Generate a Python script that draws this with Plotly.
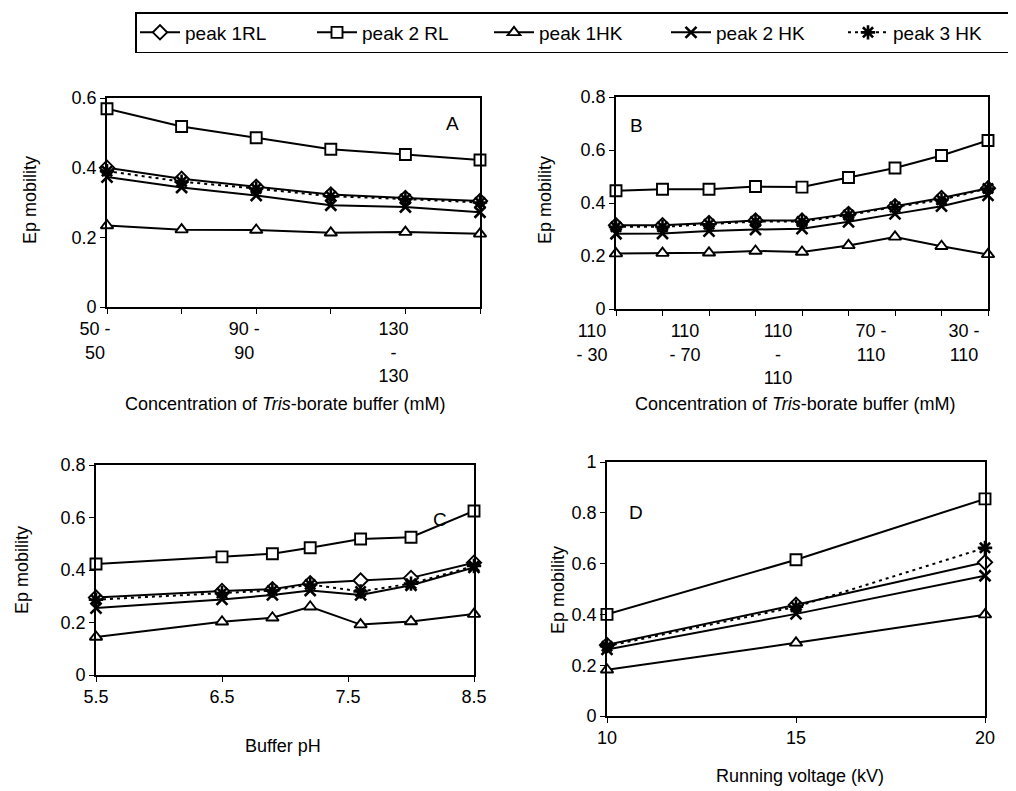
import plotly.graph_objects as go

# ---------------- data ----------------
series_names = ["peak 1RL", "peak 2 RL", "peak 1HK", "peak 2 HK", "peak 3 HK"]

# Panel A: concentration of Tris-borate (mM)
a_cats = ["50 - 50", "70 - 70", "90 - 90", "110 - 110", "130 - 130", "150 - 150"]
a_ticktext = ["50 -<br>50", "", "90 -<br>90", "", "130<br>-<br>130", ""]
a_peak1RL = [0.400, 0.368, 0.345, 0.323, 0.313, 0.304]
a_peak2RL = [0.569, 0.518, 0.486, 0.453, 0.438, 0.422]
a_peak1HK = [0.234, 0.222, 0.221, 0.213, 0.215, 0.210]
a_peak2HK = [0.373, 0.343, 0.320, 0.292, 0.287, 0.272]
a_peak3HK = [0.390, 0.360, 0.340, 0.318, 0.310, 0.300]

# Panel B: concentration of Tris-borate (mM)
b_cats = ["110 - 30", "110 - 50", "110 - 70", "110 - 90", "110 - 110",
          "90 - 110", "70 - 110", "50 - 110", "30 - 110"]
b_ticktext = ["110<br>- 30", "", "110<br>- 70", "", "110<br>-<br>110",
              "", "70 -<br>110", "", "30 -<br>110"]
b_peak1RL = [0.316, 0.316, 0.325, 0.334, 0.334, 0.359, 0.388, 0.419, 0.456]
b_peak2RL = [0.446, 0.452, 0.452, 0.462, 0.460, 0.496, 0.532, 0.579, 0.636]
b_peak1HK = [0.209, 0.211, 0.212, 0.219, 0.215, 0.240, 0.272, 0.237, 0.206]
b_peak2HK = [0.284, 0.285, 0.294, 0.300, 0.303, 0.329, 0.359, 0.388, 0.429]
b_peak3HK = [0.310, 0.310, 0.320, 0.330, 0.330, 0.355, 0.385, 0.412, 0.455]

# Panel C: buffer pH
c_ph = [5.5, 6.5, 6.9, 7.2, 7.6, 8.0, 8.5]
c_peak1RL = [0.295, 0.320, 0.327, 0.350, 0.360, 0.370, 0.428]
c_peak2RL = [0.423, 0.450, 0.462, 0.485, 0.518, 0.525, 0.625]
c_peak1HK = [0.145, 0.203, 0.218, 0.260, 0.192, 0.204, 0.232]
c_peak2HK = [0.255, 0.288, 0.305, 0.322, 0.305, 0.342, 0.410]
c_peak3HK = [0.287, 0.312, 0.322, 0.345, 0.318, 0.348, 0.415]

# Panel D: running voltage (kV)
d_kv = [10, 15, 20]
d_peak1RL = [0.280, 0.438, 0.605]
d_peak2RL = [0.400, 0.615, 0.855]
d_peak1HK = [0.182, 0.288, 0.399]
d_peak2HK = [0.262, 0.402, 0.552]
d_peak3HK = [0.275, 0.430, 0.662]

# ---------------- styling ----------------
FONT = "Liberation Sans Narrow, Liberation Sans, Arial, sans-serif"
OFF = 8                      # page body margin of the browser
W, H = 1016 - OFF, 791 - OFF  # figure size that fits the window

styles = {
    "peak 1RL": dict(symbol="diamond", size=11, fill="white", lw=1.9, dash="solid"),
    "peak 2 RL": dict(symbol="square", size=11, fill="white", lw=1.9, dash="solid"),
    "peak 1HK": dict(symbol="triangle-up", size=11, fill="white", lw=1.9, dash="solid"),
    "peak 2 HK": dict(symbol="x-thin", size=11, fill="black", lw=2.6, dash="solid"),
    "peak 3 HK": dict(symbol="asterisk", size=12, fill="black", lw=2.6, dash="3px,4px"),
}

fig = go.Figure()

panels = [
    ("x", "y", a_cats, [a_peak1RL, a_peak2RL, a_peak1HK, a_peak2HK, a_peak3HK]),
    ("x2", "y2", b_cats, [b_peak1RL, b_peak2RL, b_peak1HK, b_peak2HK, b_peak3HK]),
    ("x3", "y3", c_ph, [c_peak1RL, c_peak2RL, c_peak1HK, c_peak2HK, c_peak3HK]),
    ("x4", "y4", d_kv, [d_peak1RL, d_peak2RL, d_peak1HK, d_peak2HK, d_peak3HK]),
]

for pi, (xa, ya, xs, ys_list) in enumerate(panels):
    for name, ys in zip(series_names, ys_list):
        st = styles[name]
        fig.add_trace(go.Scatter(
            x=xs, y=ys, xaxis=xa, yaxis=ya, name=name,
            mode="lines+markers", showlegend=(pi == 0),
            legendgroup=name, cliponaxis=False,
            line=dict(color="black", width=2, dash=st["dash"]),
            marker=dict(symbol=st["symbol"], size=st["size"], color=st["fill"],
                        line=dict(color="black", width=st["lw"])),
        ))

def px_dom_x(l, r):
    return [(l - OFF) / W, (r - OFF) / W]

def px_dom_y(top, bottom):
    return [1 - (bottom - OFF) / H, 1 - (top - OFF) / H]

axis_common = dict(showline=True, linecolor="black", linewidth=1.7, mirror=True,
                   showgrid=False, zeroline=False, ticks="outside", ticklen=5,
                   tickcolor="black", tickwidth=1, automargin=False,
                   tickfont=dict(family=FONT, size=18, color="black"))

layout = dict(
    width=W, height=H, margin=dict(l=0, r=0, t=0, b=0, autoexpand=False),
    paper_bgcolor="white", plot_bgcolor="white",
    font=dict(family=FONT, size=18, color="black"),
    showlegend=True,
    legend=dict(orientation="h", x=(135 - OFF) / W, y=1 - (12 - OFF) / H,
                xanchor="left", yanchor="top",
                bordercolor="black", borderwidth=1.5, bgcolor="white",
                font=dict(family=FONT, size=19, color="black"),
                entrywidth=122, itemwidth=40, tracegroupgap=0),
    xaxis=dict(domain=px_dom_x(107, 480), anchor="y", type="category",
               categoryorder="array", categoryarray=a_cats,
               range=[0, len(a_cats) - 1], tickvals=a_cats, ticktext=a_ticktext,
               ticklabelshift=-12, **axis_common),
    yaxis=dict(domain=px_dom_y(98, 307), anchor="x", range=[0, 0.6], dtick=0.2,
               **axis_common),
    xaxis2=dict(domain=px_dom_x(616, 988), anchor="y2", type="category",
                categoryorder="array", categoryarray=b_cats,
                range=[0, len(b_cats) - 1], tickvals=b_cats, ticktext=b_ticktext,
                ticklabelshift=-24, **axis_common),
    yaxis2=dict(domain=px_dom_y(97, 309), anchor="x2", range=[0, 0.8], dtick=0.2,
                **axis_common),
    xaxis3=dict(domain=px_dom_x(96, 474), anchor="y3", range=[5.5, 8.5],
                tickvals=[5.5, 6.5, 7.5, 8.5], ticktext=["5.5", "6.5", "7.5", "8.5"],
                **axis_common),
    yaxis3=dict(domain=px_dom_y(465, 675), anchor="x3", range=[0, 0.8], dtick=0.2,
                **axis_common),
    xaxis4=dict(domain=px_dom_x(607, 985), anchor="y4", range=[10, 20], dtick=5,
                **axis_common),
    yaxis4=dict(domain=px_dom_y(462, 716), anchor="x4", range=[0, 1], dtick=0.2,
                **axis_common),
)
fig.update_layout(**layout)

def ptext(text, xpx, ypx, angle=0, size=18):
    return dict(text=text, xref="paper", yref="paper",
                x=(xpx - OFF) / W, y=1 - (ypx - OFF) / H,
                showarrow=False, textangle=angle,
                font=dict(family=FONT, size=size, color="black"),
                xanchor="center", yanchor="middle")

annotations = [
    # panel letters
    ptext("A", 452, 123, size=19),
    ptext("B", 636, 125, size=19),
    ptext("C", 440, 519, size=19),
    ptext("D", 636, 512, size=19),
    # axis titles
    ptext("Ep mobility", 30, 200, -90),
    ptext("Ep mobility", 545, 200, -90),
    ptext("Ep mobility", 22, 570, -90),
    ptext("Ep mobility", 558, 590, -90),
    ptext("Concentration of <i>Tris</i>-borate buffer (mM)", 285, 404),
    ptext("Concentration of <i>Tris</i>-borate buffer (mM)", 795, 404),
    ptext("Buffer pH", 283, 746),
    ptext("Running voltage (kV)", 800, 776),
]
fig.update_layout(annotations=annotations)

fig.write_html("out.html")
